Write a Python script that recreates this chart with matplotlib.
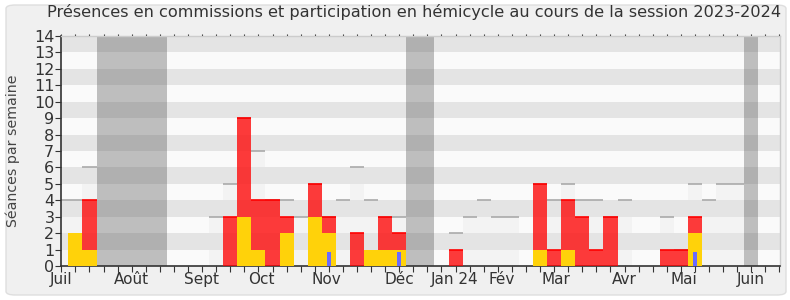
import numpy as np
import matplotlib
matplotlib.use("Agg")
import matplotlib.pyplot as plt
from matplotlib.patches import FancyBboxPatch

plt.rcParams['font.family'] = ['DejaVu Sans']

# one entry per week, week 0 = first week of July 2023
weeks = np.arange(52)
seances = [4, 4, 6, 0, 0, 0, 0, 0, 0, 0, 0, 3, 5, 9, 7, 4, 4, 3, 5, 3, 4, 6, 4, 3, 3, 0,
           0, 0, 2, 3, 4, 3, 3, 0, 5, 4, 5, 4, 4, 3, 4, 0, 0, 3, 1, 5, 4, 5, 5, 0, 0, 0]
hemicycle = [0, 0, 4, 0, 0, 0, 0, 0, 0, 0, 0, 0, 3, 9, 4, 4, 3, 0, 5, 3, 0, 2, 0, 3, 2, 0,
             0, 0, 1, 0, 0, 0, 0, 0, 5, 1, 4, 3, 1, 3, 0, 0, 0, 1, 1, 3, 0, 0, 0, 0, 0, 0]
commission = [0, 2, 1, 0, 0, 0, 0, 0, 0, 0, 0, 0, 0, 3, 1, 0, 2, 0, 3, 2, 0, 0, 1, 1, 1, 0,
              0, 0, 0, 0, 0, 0, 0, 0, 1, 0, 1, 0, 0, 0, 0, 0, 0, 0, 0, 2, 0, 0, 0, 0, 0, 0]
questions = [0] * 52
for w in (19, 24, 45):
    questions[w] = 0.86
vacances = [3, 4, 5, 6, 7, 25, 26, 49]

month_pos = [0, 5.0, 9.97, 14.2, 18.8, 24.04, 27.96, 31.25, 35.1, 39.98, 44.2, 48.96]
month_labels = ["Juil", "Août", "Sept", "Oct", "Nov", "Déc", "Jan 24", "Fév", "Mar", "Avr", "Mai", "Juin"]

ymax = 14
XMAX = 51.04

fig = plt.figure(figsize=(7.9, 3.0), dpi=100)
fig.patch.set_facecolor("white")
frame = FancyBboxPatch((6 / 790, 5 / 300), 780 / 790, 290 / 300,
                       boxstyle="round,pad=0,rounding_size=0.012",
                       transform=fig.transFigure, facecolor="#f0f0f0",
                       edgecolor="#dedede", linewidth=1.0, zorder=-10)
fig.patches.append(frame)

ax = fig.add_axes([61.3 / 790, 1 - 266 / 300, (780 - 61.3) / 790, 230 / 300])
ax.set_facecolor("#fafafa")

# alternating horizontal bands
for y in range(1, ymax, 2):
    ax.axhspan(y, y + 1, color="#e4e4e4", lw=0, zorder=0)

# vacation weeks
ax.bar(vacances, [ymax] * len(vacances), width=1, color=(0.33, 0.33, 0.33), alpha=0.36,
       lw=0, zorder=1)

# sessions held
seances = np.array(seances)
ax.bar(weeks, seances, width=1, color=(0.9, 0.9, 0.9), alpha=0.3, lw=0, zorder=2)
m = seances > 0
ax.hlines(seances[m], weeks[m] - 0.5, weeks[m] + 0.5, color="#aaaaaa", lw=1.2, zorder=2)

# hemicycle
hemicycle = np.array(hemicycle)
ax.bar(weeks, hemicycle, width=1, color="red", alpha=0.76, lw=0, zorder=3)
m = hemicycle > 0
ax.hlines(hemicycle[m], weeks[m] - 0.5, weeks[m] + 0.5, color="#ff0000", lw=1.2, zorder=3)

# commissions
ax.bar(weeks, commission, width=1, color="#ffd20a", lw=0, zorder=4)

# questions
ax.bar(weeks, questions, width=0.25, color="#6b6bff", lw=0, zorder=5)

ax.set_xlim(0, XMAX)
ax.set_ylim(0, ymax)
ax.set_yticks(range(0, ymax + 1))
ax.xaxis.remove_overlapping_locs = False
ax.set_xticks(weeks)
ax.set_xticklabels([])
ax.set_xticks(month_pos, month_labels, minor=True)
ax.tick_params(axis="x", which="minor", length=0, pad=4, labelsize=11, labelcolor="#333333")
ax.tick_params(axis="x", which="major", length=4, color="#333333", direction="out")
ax.tick_params(axis="y", length=4, color="#333333", labelsize=11.5, labelcolor="#333333", pad=1)

for s in ("left", "bottom"):
    ax.spines[s].set_color("#333333")
    ax.spines[s].set_linewidth(1.2)
for s in ("top", "right"):
    ax.spines[s].set_color("#cccccc")
    ax.spines[s].set_linewidth(1.0)

sec = ax.secondary_xaxis("top")
sec.set_xticks(weeks)
sec.set_xticklabels([])
sec.tick_params(length=1.5, color="#333333", direction="out")
sec.spines["top"].set_visible(False)

ax.set_ylabel("Séances par semaine", fontsize=10.2, color="#444444")
ax.yaxis.set_label_coords(-0.058, 0.5)
fig.text(0.524, 0.96, "Présences en commissions et participation en hémicycle au cours de la session 2023-2024",
         ha="center", va="center", fontsize=11.6, color="#333333")

fig.savefig("out.png", dpi=100)
